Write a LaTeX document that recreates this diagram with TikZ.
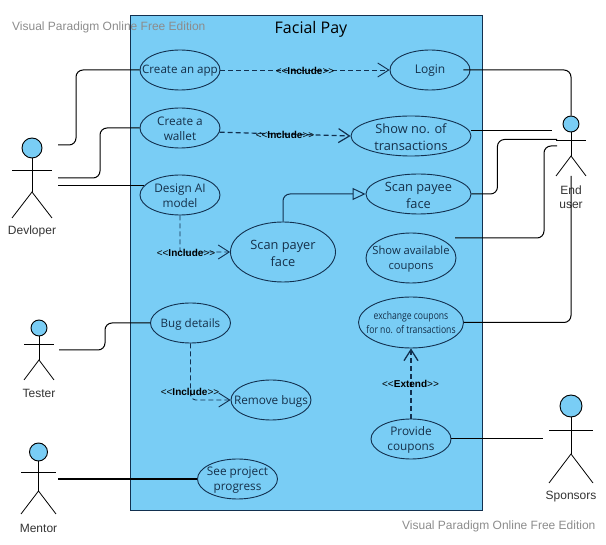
\documentclass[tikz,border=0pt]{standalone}
\usepackage{fontspec}
\setmainfont{Open Sans}
\newfontfamily\actorfont{Liberation Sans}
\newfontfamily\stereofont{Liberation Sans}
\newfontfamily\squeezefont[FakeStretch=0.82]{Open Sans}
\usetikzlibrary{arrows.meta,shapes.geometric}
\definecolor{boxblue}{HTML}{79CDF5}
\definecolor{navyline}{HTML}{12304F}
\definecolor{usetext}{HTML}{15304A}
\definecolor{markgray}{HTML}{8C8C8C}

\tikzstyle{system} = [draw=navyline,fill=boxblue,line width=1pt]
\tikzstyle{usecase} = [ellipse,draw=navyline,fill=boxblue,line width=0.9pt,inner sep=0pt]
\tikzstyle{actor head} = [circle,draw=black,fill=boxblue,line width=0.9pt,inner sep=0pt]
\tikzstyle{actor line} = [draw=black,line width=0.8pt]
\tikzstyle{actor name} = [font=\actorfont\fontsize{12}{14}\selectfont,text=black!80,align=center,inner sep=0pt]
\tikzstyle{assoc} = [draw=black,line width=1pt,rounded corners=7pt]
\tikzstyle{include edge} = [draw=navyline,line width=0.9pt,dash pattern=on 5pt off 3pt,-{Straight Barb[length=11pt,width=14pt]}]
\tikzstyle{stereotype} = [font=\stereofont\fontsize{10}{12}\selectfont,text=black,inner sep=0pt]
\tikzstyle{watermark} = [font=\actorfont\fontsize{12}{14}\selectfont,text=markgray,inner sep=0pt,anchor=west]

\begin{document}
\begin{tikzpicture}[x=1pt,y=-1pt]
    \useasboundingbox (0,0) rectangle (606,545);
    % The system box
    \node[system,rectangle,inner sep=0pt,minimum width=352.5pt,minimum height=494.5pt,anchor=north west] (facial) at (129.5,15.5) {};
    \node[font=\fontsize{16}{18}\selectfont,text=black,inner sep=0pt] (title) at (311,29.5) {Facial Pay};
    % First we draw the use cases
    \foreach \pos/\name/\wid/\hgt/\fs/\ls/\txt in {
        {(180,70)/app/80/40/11.6/15/Create an app},
        {(180,128)/wallet/80/40/11.8/15/Create a\\wallet},
        {(180,195)/design/80/40/11.8/15/Design AI\\model},
        {(283,252)/payer/105/60/12.8/17/Scan payer\\face},
        {(430,70)/login/80/40/12/15/Login},
        {(411,136)/shownum/120/40/12.8/17/Show no. of\\transactions},
        {(418.5,194)/payee/105/40/12.8/17/Scan payee\\face},
        {(411,258)/avail/90/50/11.2/15.5/Show available\\coupons},
        {(411,439)/provide/80/40/11.8/15/Provide\\coupons},
        {(190.5,323)/bug/80/40/11.6/15/Bug details},
        {(271,400)/remove/80/40/11.8/15/Remove bugs},
        {(237.5,479)/progress/80/40/11.8/15/See project\\progress}}
    \node[usecase,minimum width=\wid pt,minimum height=\hgt pt,
        label={[align=center,inner sep=0pt,yshift=-1pt,text=usetext,font=\fontsize{\fs}{\ls}\selectfont]center:\txt}] (\name) at \pos {};
    \node[usecase,minimum width=105pt,minimum height=51pt,
        label={[align=center,inner sep=0pt,text=usetext,font=\squeezefont\fontsize{10.5}{14}\selectfont]center:exchange coupons\\for no. of transactions}] (exchange) at (411,322.5) {};
    % Second draw the actors
    \foreach \x/\y/\r/\arm/\hip/\foot/\wid/\name/\lab/\txt in {
        {32/148/10/170/192/218/20/dev/231/Devloper},
        {39/328/8/344/360/380/15/tester/393/Tester},
        {38.5/452/9/472/491/514/17.5/mentor/528/Mentor},
        {571/406/11/430/454/483/22/sponsor/497/Sponsors},
        {571/124/8/140/156/176/15/enduser/197/End\\user}}
    {
    \node[actor head,minimum size=2*\r pt] (\name) at (\x,\y) {};
    \node[actor name] (\name label) at (\x,\lab) {\txt};
    \path[actor line] (\name.south) -- (\x,\hip);
    \path[actor line] (\x-\wid,\arm) -- (\x+\wid,\arm);
    \path[actor line] (\x-\wid,\foot) -- (\x,\hip) -- (\x+\wid,\foot);
    }
    % Free ends of the associations
    \coordinate (dev1) at (58,145);
    \coordinate (dev2) at (58,178);
    \coordinate (dev3) at (58,186);
    \coordinate (tester1) at (59,350);
    \coordinate (mentor1) at (58,479);
    \coordinate (sponsor1) at (543,439);
    \coordinate (end1) at (552,131);
    \coordinate (end2) at (557,139.5);
    \coordinate (end3) at (557,146);
    \coordinate (end4) at (571,176);
    \coordinate (avail1) at (455,238);
    % Associations
    \path[assoc] (dev1) -- ++(18,0) |- (app.west);
    \path[assoc] (dev2) -- ++(42,0) |- (wallet.west);
    \path[assoc] (dev3) -- (dev3 -| design.165);
    \path[assoc] (tester1) -- ++(46,0) |- (bug.west);
    \path[assoc,line width=1.2pt] (mentor1) -- (progress.west);
    \path[assoc] (provide.east) -- (sponsor1);
    \path[assoc] ([xshift=-7pt]login.east) -| (enduser.north);
    \path[assoc] (end1 -| shownum.east) -- (end1);
    \path[assoc] (payee.east) -- ++(26,0) |- (end2);
    \path[assoc] (avail1) -- ++(89,0) |- (end3);
    \path[assoc] (exchange.east) -| (end4);
    % Include and extend
    \path[include edge] (app.east) -- (login.west);
    \path[include edge,line width=1.2pt] (wallet.-6) -- (shownum.west);
    \path[include edge,rounded corners=2pt] (design.south) |- (payer.west);
    \path[include edge,rounded corners=5pt] (bug.south) |- (remove.west);
    \path[include edge,line width=1.3pt] (provide.north) -- (exchange.south);
    \path[draw=navyline,line width=1pt,rounded corners=7pt,-{Triangle[open,length=13pt,width=12pt]}] (payer.north) |- (payee.west);
    \node[stereotype] (incl1) at (305,71) {<<\textbf{Include}>>};
    \node[stereotype] (incl2) at (285,135) {<<\textbf{Include}>>};
    \node[stereotype] (incl3) at (186,253) {<<\textbf{Include}>>};
    \node[stereotype] (incl4) at (190,392) {<<\textbf{Include}>>};
    \node[stereotype] (ext1) at (410.5,384) {<<\textbf{Extend}>>};
    % Watermarks on top
    \node[watermark] (mark1) at (12,27) {Visual Paradigm Online Free Edition};
    \node[watermark] (mark2) at (402,526.5) {Visual Paradigm Online Free Edition};
\end{tikzpicture}
\end{document}
